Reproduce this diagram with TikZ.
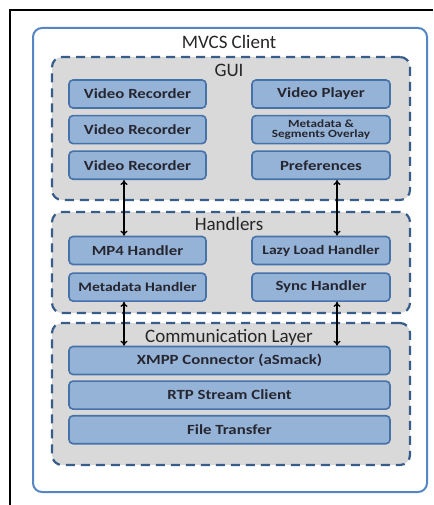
\documentclass[tikz,border=0pt]{standalone}
\usepackage{fontspec}
\setmainfont{Carlito}
\newfontfamily\boxfont[FakeStretch=1.2]{Carlito}
\usetikzlibrary{positioning,arrows.meta}

\definecolor{boxfill}{RGB}{149,179,215}
\definecolor{boxline}{RGB}{70,114,170}
\definecolor{outerline}{RGB}{84,134,196}
\definecolor{dashline}{RGB}{56,93,138}
\definecolor{layerfill}{RGB}{217,217,217}
\definecolor{boxtext}{RGB}{38,38,48}

\begin{document}
\begin{tikzpicture}[
    x=1pt, y=1pt,
    node distance=6pt,
    client/.style={rectangle, rounded corners=9pt, draw=outerline, line width=2pt, fill=white, minimum width=394pt, minimum height=464pt},
    layer/.style={rectangle, rounded corners=10pt, draw=dashline, line width=2.2pt, dash pattern=on 9pt off 6pt, fill=layerfill, minimum width=358pt},
    title/.style={font=\fontsize{19}{21}\selectfont, text=black!85, inner sep=0pt},
    box/.style={rectangle, rounded corners=4pt, draw=boxline, line width=1.6pt, fill=boxfill, minimum width=137pt, minimum height=28pt, align=center, inner sep=1pt, text=boxtext, font=\boxfont\bfseries\fontsize{14}{15}\selectfont},
    widebox/.style={box, minimum width=321pt},
    arrow/.style={{To[length=5pt,width=7pt]}-{To[length=5pt,width=7pt]}, line width=1.3pt}
]
\useasboundingbox (0,0) rectangle (433,-505);

% Frame
\draw[line width=1.2pt] (433,-10) -- (10,-10) -- (10,-505);

% Containers
\node[client] (client) at (230,-260) {};
\node[title] (clienttitle) at (229,-42) {MVCS Client};
\node[layer, minimum height=143pt] (gui) at (231,-128.5) {};
\node[title] (guititle) at (229,-70) {GUI};
\node[layer, minimum height=101pt] (handlers) at (231,-262.5) {};
\node[title] (handlerstitle) at (229,-224) {Handlers};
\node[layer, minimum height=142pt] (comm) at (231,-394) {};
\node[title] (commtitle) at (229,-337) {Communication Layer};

% GUI
\node[box] (rec1) at (137.5,-94) {Video Recorder};
\node[box, below=of rec1] (rec2) {Video Recorder};
\node[box, below=of rec2] (rec3) {Video Recorder};
\node[box, minimum width=138pt] (player) at (321,-94) {Video Player};
\node[box, minimum width=138pt, below=of player, font=\boxfont\bfseries\fontsize{11}{10.5}\selectfont] (overlay) {Metadata \&\\Segments Overlay};
\node[box, minimum width=138pt, below=of overlay] (prefs) {Preferences};

% Handlers
\node[box] (mp4) at (137.5,-250.5) {MP4 Handler};
\node[box, below=7pt of mp4, font=\boxfont\bfseries\fontsize{13}{14}\selectfont] (meta) {Metadata Handler};
\node[box, minimum width=138pt, font=\boxfont\bfseries\fontsize{13}{14}\selectfont] (lazy) at (321,-250.5) {Lazy Load Handler};
\node[box, minimum width=138pt, below=7pt of lazy] (sync) {Sync Handler};

% Communication Layer
\node[widebox] (xmpp) at (229.5,-360.5) {XMPP Connector (aSmack)};
\node[widebox, below=5pt of xmpp] (rtp) {RTP Stream Client};
\node[widebox, below=5pt of rtp] (transfer) {File Transfer};

% Arrows
\draw[arrow] ([xshift=-13.5pt]rec3.south) -- ([xshift=-13.5pt]mp4.north);
\draw[arrow] ([xshift=16pt]prefs.south) -- ([xshift=16pt]lazy.north);
\draw[arrow] ([xshift=-13.5pt]meta.south) -- ([xshift=-13.5pt]meta.south |- xmpp.north);
\draw[arrow] ([xshift=16pt]sync.south) -- ([xshift=16pt]sync.south |- xmpp.north);

\end{tikzpicture}
\end{document}
